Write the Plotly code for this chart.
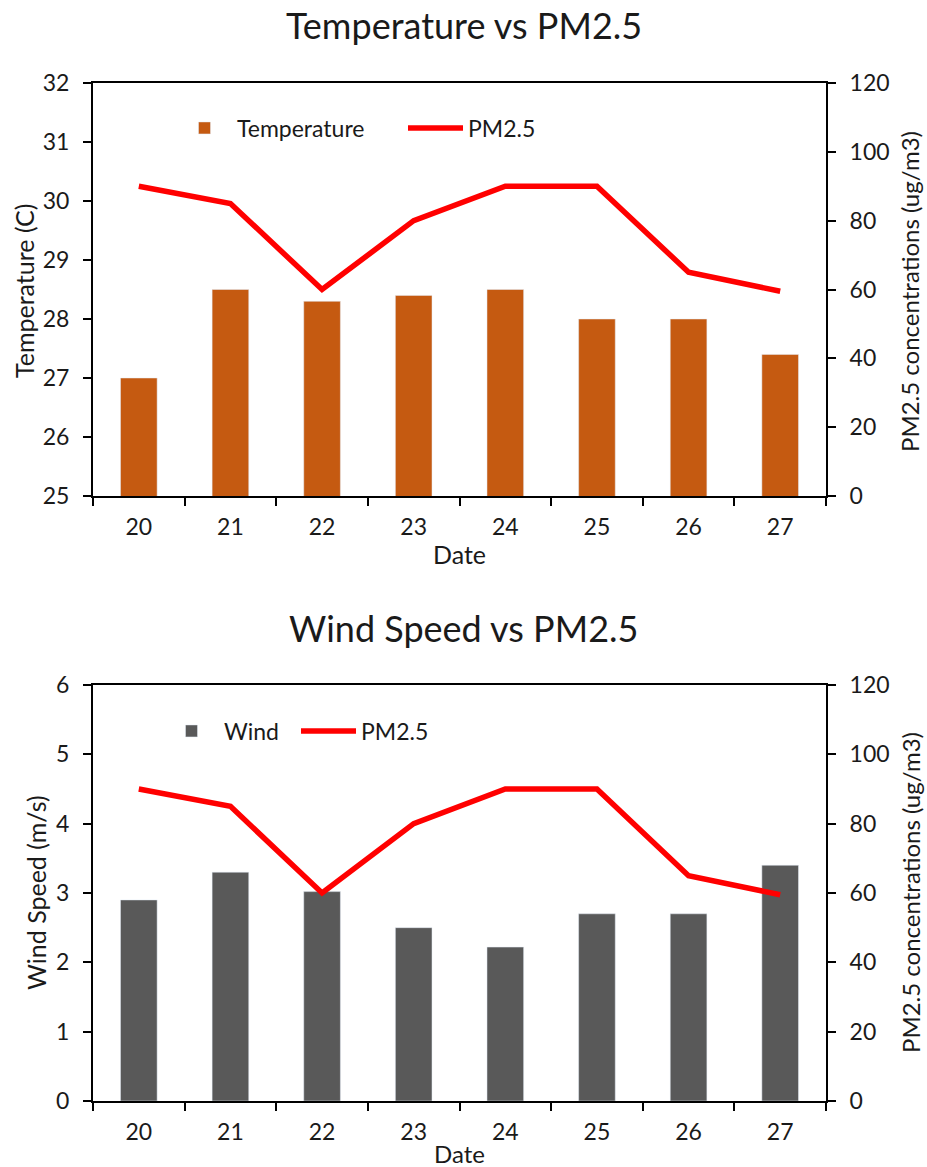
import plotly.graph_objects as go
from plotly.subplots import make_subplots

dates = ["20", "21", "22", "23", "24", "25", "26", "27"]
temperature = [27.0, 28.5, 28.3, 28.4, 28.5, 28.0, 28.0, 27.4]
wind = [2.9, 3.3, 3.02, 2.5, 2.22, 2.7, 2.7, 3.4]
pm25 = [90, 85, 60, 80, 90, 90, 65, 59.5]

FONT = "Lato"
TXT = "#1a1a1a"
W = 927.0
H = 1167.0
TICK = 23
TTL = 25

fig = make_subplots(rows=2, cols=1, specs=[[{"secondary_y": True}], [{"secondary_y": True}]])

fig.add_trace(go.Bar(x=dates, y=temperature, name="Temperature", marker_color="#C55A11",
                     width=0.4, legend="legend"), row=1, col=1, secondary_y=False)
fig.add_trace(go.Scatter(x=dates, y=pm25, name="PM2.5", mode="lines",
                         line=dict(color="#FF0000", width=5.5), legend="legend"),
              row=1, col=1, secondary_y=True)
fig.add_trace(go.Bar(x=dates, y=wind, name="Wind", marker_color="#595959",
                     width=0.4, legend="legend2"), row=2, col=1, secondary_y=False)
fig.add_trace(go.Scatter(x=dates, y=pm25, name="PM2.5", mode="lines",
                         line=dict(color="#FF0000", width=5.5), legend="legend2"),
              row=2, col=1, secondary_y=True)

xd = [93 / W, 826 / W]
top_dom = [1 - 496 / H, 1 - 83 / H]
bot_dom = [1 - 1101 / H, 1 - 685 / H]

xcommon = dict(type="category", showline=True, linecolor="black", linewidth=2, mirror=True,
               ticks="outside", tickson="boundaries", ticklen=8, tickwidth=2, tickcolor="black",
               tickfont=dict(size=TICK, color=TXT, family=FONT), showgrid=False, domain=xd,
               automargin=False, ticklabelstandoff=9)
ycommon = dict(showline=True, linecolor="black", linewidth=2, ticks="outside", ticklen=8,
               tickwidth=2, tickcolor="black", showgrid=False, zeroline=False, automargin=False,
               ticklabelstandoff=9, tickfont=dict(size=TICK, color=TXT, family=FONT))


def label(text, x, y, angle=0, size=TTL):
    return dict(text=text, x=x / W, y=1 - y / H, xref="paper", yref="paper",
                xanchor="center", yanchor="middle", showarrow=False, textangle=angle,
                font=dict(size=size, color=TXT, family=FONT))


fig.update_layout(
    xaxis=dict(**xcommon),
    xaxis2=dict(**xcommon),
    yaxis=dict(**ycommon, range=[25, 32], dtick=1, domain=top_dom),
    yaxis2=dict(**ycommon, range=[0, 120], dtick=20),
    yaxis3=dict(**ycommon, range=[0, 6], dtick=1, domain=bot_dom),
    yaxis4=dict(**ycommon, range=[0, 120], dtick=20),
    width=927, height=1167, margin=dict(l=0, r=0, t=0, b=0, autoexpand=False),
    paper_bgcolor="white", plot_bgcolor="white",
    font=dict(family=FONT, color=TXT),
    legend=dict(orientation="h", x=172 / W, y=1 - 128 / H, xanchor="left", yanchor="middle",
                bgcolor="rgba(0,0,0,0)", font=dict(size=TICK, color=TXT, family=FONT),
                itemwidth=55, entrywidth=161, tracegroupgap=0),
    legend2=dict(orientation="h", x=159 / W, y=1 - 731 / H, xanchor="left", yanchor="middle",
                 bgcolor="rgba(0,0,0,0)", font=dict(size=TICK, color=TXT, family=FONT),
                 itemwidth=55, entrywidth=67, tracegroupgap=0),
    annotations=[
        label("Temperature vs PM2.5", 463.5, 25, size=36),
        label("Wind Speed vs PM2.5", 463.5, 628, size=36),
        label("Temperature (C)", 24, 291, -90),
        label("PM2.5 concentrations (ug/m3)", 910, 292, -90, size=24),
        label("Date", 459, 554),
        label("Wind Speed (m/s)", 36, 893, -90),
        label("PM2.5 concentrations (ug/m3)", 910, 893, -90, size=24),
        label("Date", 459, 1153, size=24),
    ],
)

fig.write_html("out.html")
